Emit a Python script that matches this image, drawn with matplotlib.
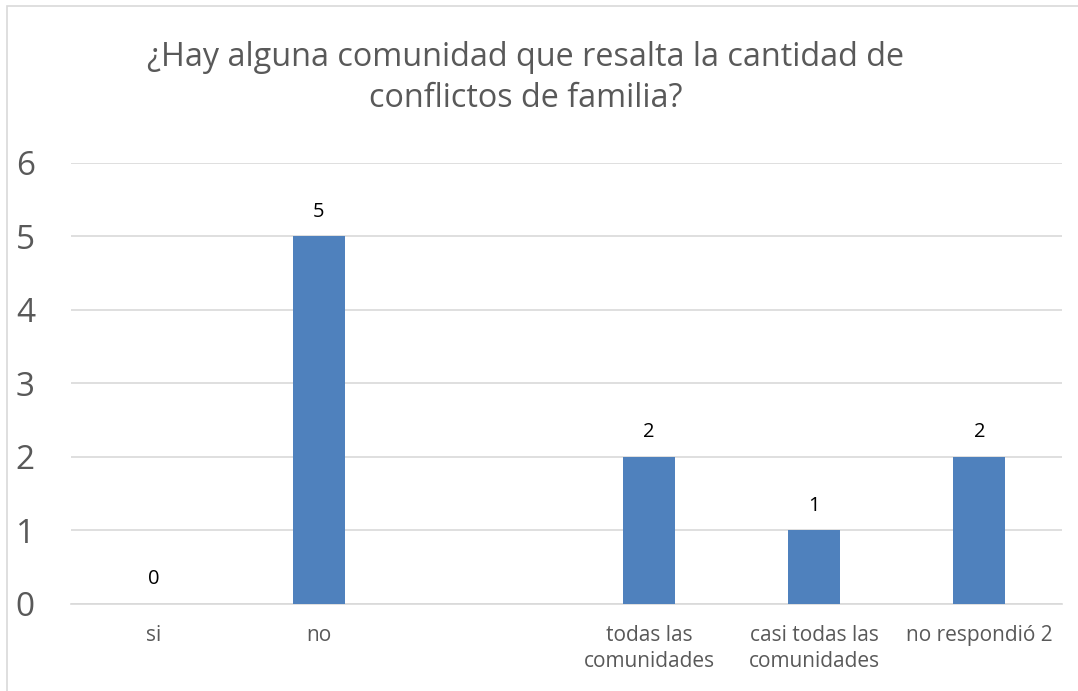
import matplotlib.pyplot as plt
from matplotlib.patches import Rectangle

# Data
categories = ["si", "no", "", "todas las\ncomunidades", "casi todas las\ncomunidades", "no respondió 2"]
values = [0, 5, None, 2, 1, 2]

W, H = 1078, 691
fig = plt.figure(figsize=(W / 100, H / 100), dpi=100)
plt.rcParams["font.family"] = ["Open Sans", "DejaVu Sans"]

# chart border
fig.patches.append(Rectangle((7 / W, -0.01), 1.02, 1 - 6 / H + 0.01, transform=fig.transFigure,
                             fill=False, edgecolor="#d9d9d9", linewidth=1.2))

ax = fig.add_axes([71 / W, 1 - 604 / H, (1062 - 71) / W, (604 - 162.7) / H])
x = list(range(len(categories)))
for xi, v in zip(x, values):
    if v is None:
        continue
    ax.bar(xi, v, width=0.315, color="#4f81bd", zorder=3)
    ax.text(xi, v + 0.2, str(v), ha="center", va="bottom", fontsize=14.5, color="#000000")

ax.set_xlim(-0.5, len(categories) - 0.5)
ax.set_ylim(0, 6)
ax.set_yticks(range(7))
ax.set_yticklabels([str(i) for i in range(7)], fontsize=24, color="#595959")
ax.set_xticks(x)
ax.set_xticklabels(categories, fontsize=15, color="#595959", linespacing=1.35)
ax.tick_params(length=0)
ax.tick_params(axis="y", pad=26)
ax.tick_params(axis="x", pad=15)
for lbl in ax.get_xticklabels():
    lbl.set_verticalalignment("top")
ax.grid(axis="y", color="#d9d9d9", linewidth=1.2, zorder=0)
for s in ["left", "right", "top"]:
    ax.spines[s].set_visible(False)
ax.spines["bottom"].set_color("#d9d9d9")
ax.spines["bottom"].set_linewidth(1.2)

fig.text(526 / W, 1 - 78 / H, "¿Hay alguna comunidad que resalta la cantidad de\nconflictos de familia?",
         ha="center", va="center", fontsize=23.3, color="#595959", linespacing=1.35)

fig.savefig("out.png", dpi=100)
